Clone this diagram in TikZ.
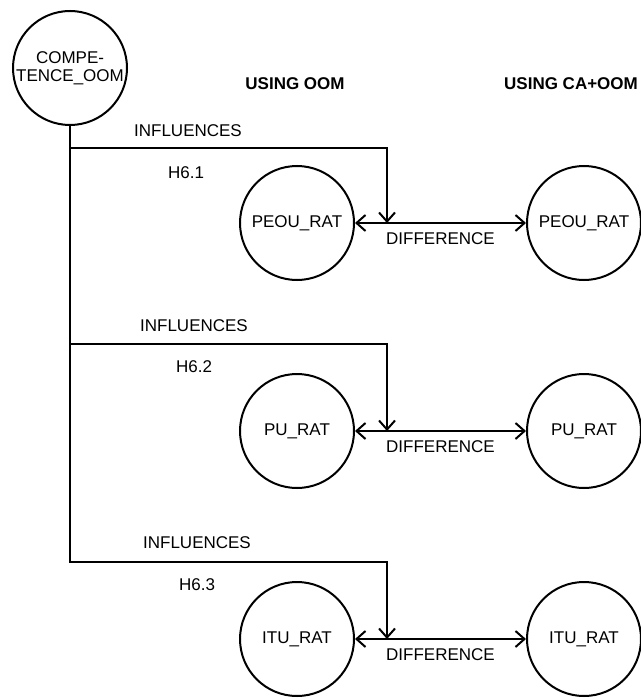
\documentclass[tikz,border=0pt]{standalone}
\usepackage{fontspec}
\setmainfont{Liberation Sans}
\usetikzlibrary{arrows.meta}
\tikzset{every path/.style={black,line width=2pt}, every node/.style={inner sep=0pt, font=\fontsize{17}{18}\selectfont}}
\tikzset{circ/.style={draw, circle, minimum size=114pt, align=center},
         arr/.style={-{Straight Barb[length=9pt,width=16pt]}},
         twoarr/.style={{Straight Barb[length=9pt,width=16pt]}-{Straight Barb[length=9pt,width=16pt]}}}

\begin{document}
\begin{tikzpicture}[x=1pt,y=-1pt]
   \useasboundingbox (0,0) rectangle (640,698);
   \node[circ] (comp) at (70,68) {COMPE-\\TENCE\_OOM};
   \node[font=\fontsize{17}{18}\selectfont\bfseries] (oom) at (295,84) {USING OOM};
   \node[font=\fontsize{17}{18}\selectfont\bfseries] (caoom) at (571,84) {USING CA+OOM};
   \begin{scope}
    \node[circ] (peouA) at (297,223) {PEOU\_RAT};
    \node[circ] (peouB) at (584,223) {PEOU\_RAT};
    \coordinate (k1) at (387,148);
    \draw[arr] (comp |- k1) -- (k1) -- (k1 |- peouA);
    \draw[twoarr] (peouA) -- node[below=9pt] (d1) {DIFFERENCE} (peouB);
    \node (inf1) at (188,131) {INFLUENCES};
    \node (h1) at (186,173) {H6.1};
   \end{scope}
   \begin{scope}
    \node[circ] (puA) at (297,431) {PU\_RAT};
    \node[circ] (puB) at (584,431) {PU\_RAT};
    \coordinate (k2) at (387,344);
    \draw[arr] (comp |- k2) -- (k2) -- (k2 |- puA);
    \draw[twoarr] (puA) -- node[below=9pt] (d2) {DIFFERENCE} (puB);
    \node (inf2) at (194,326) {INFLUENCES};
    \node (h2) at (194,367) {H6.2};
   \end{scope}
   \begin{scope}
    \node[circ] (ituA) at (297,639) {ITU\_RAT};
    \node[circ] (ituB) at (584,639) {ITU\_RAT};
    \coordinate (k3) at (387,562);
    \draw[arr] (comp) |- (k3) -- (k3 |- ituA);
    \draw[twoarr] (ituA) -- node[below=9pt] (d3) {DIFFERENCE} (ituB);
    \node (inf3) at (197,543) {INFLUENCES};
    \node (h3) at (197,585) {H6.3};
   \end{scope}
\end{tikzpicture}
\end{document}
